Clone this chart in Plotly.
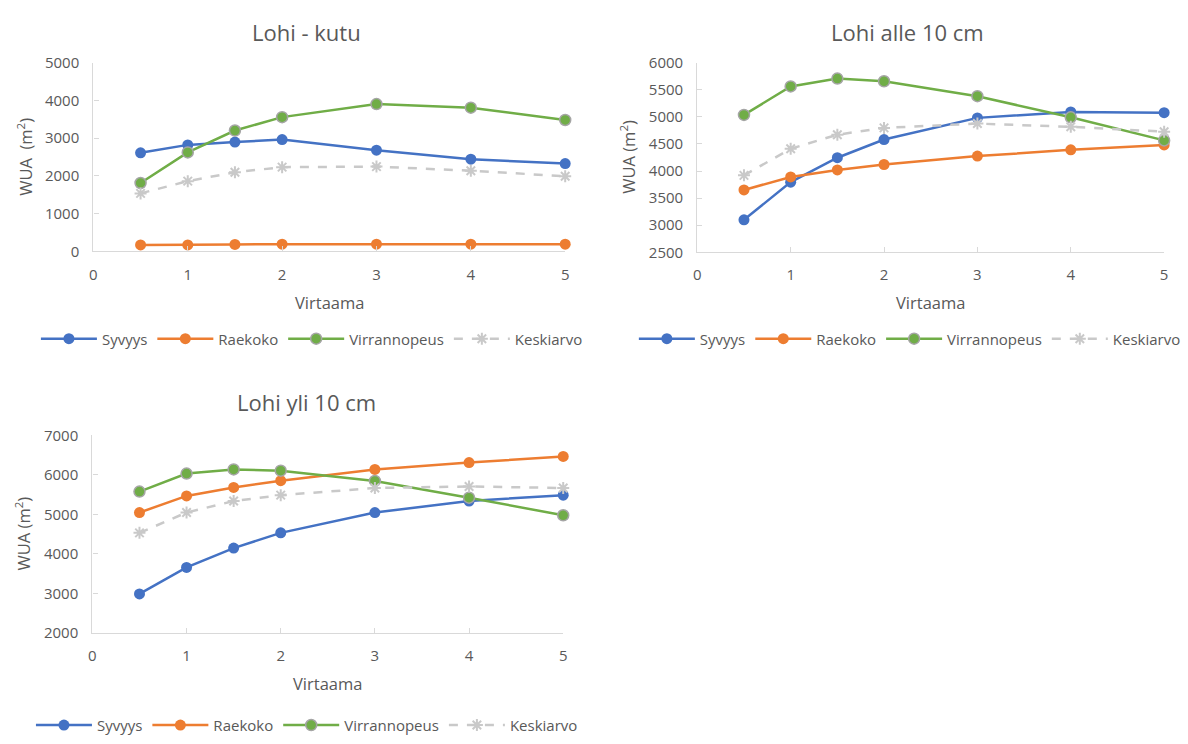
import plotly.graph_objects as go

virtaama = [0.5, 1, 1.5, 2, 3, 4, 5]
series_names = ["Syvyys", "Raekoko", "Virrannopeus", "Keskiarvo"]

kutu_syvyys = [2610, 2820, 2895, 2960, 2680, 2440, 2325]
kutu_raekoko = [170, 170, 185, 190, 190, 190, 190]
kutu_virrannopeus = [1810, 2620, 3200, 3555, 3900, 3805, 3480]
kutu_keskiarvo = [1535, 1860, 2095, 2230, 2245, 2135, 1990]

alle_syvyys = [3100, 3795, 4245, 4580, 4980, 5090, 5075]
alle_raekoko = [3650, 3890, 4020, 4120, 4275, 4390, 4480]
alle_virrannopeus = [5035, 5560, 5705, 5655, 5380, 4990, 4565]
alle_keskiarvo = [3920, 4410, 4670, 4795, 4875, 4815, 4725]

yli_syvyys = [2985, 3655, 4145, 4530, 5045, 5335, 5485]
yli_raekoko = [5045, 5465, 5680, 5850, 6135, 6310, 6465]
yli_virrannopeus = [5575, 6030, 6135, 6105, 5845, 5420, 4975]
yli_keskiarvo = [4530, 5045, 5335, 5485, 5665, 5705, 5665]

titles = ["Lohi - kutu", "Lohi alle 10 cm", "Lohi yli 10 cm"]
y_titles = ["WUA\u00a0\u00a0(m<sup>2</sup>)", "WUA (m<sup>2</sup>)", "WUA (m<sup>2</sup>)"]
y_ranges = [[0, 5000], [2500, 6000], [2000, 7000]]
y_dticks = [1000, 500, 1000]

data = [
    [kutu_syvyys, kutu_raekoko, kutu_virrannopeus, kutu_keskiarvo],
    [alle_syvyys, alle_raekoko, alle_virrannopeus, alle_keskiarvo],
    [yli_syvyys, yli_raekoko, yli_virrannopeus, yli_keskiarvo],
]

W, H = 1188, 744
# plot areas in pixels: (x0, x1, ytop, ybottom)
areas = [(90, 565, 53, 247), (698, 1168, 53, 248), (89, 563, 436, 639)]
title_pos = [(305, 22), (910, 22), (305, 402)]
xtitle_pos = [(328, 300), (933, 300), (326, 691)]
ytitle_pos = [(21, 150), (628, 150), (19, 537)]
legend_pos = [(310, 337), (912, 337), (305, 734)]

FONT = "Open Sans"
TXT = "#595959"
colors = ["#4472C4", "#ED7D31", "#70AD47", "#C9C9C9"]

fig = go.Figure()
annotations = []
layout = {}
for i in range(3):
    x0, x1, yt, yb = areas[i]
    ax = "" if i == 0 else str(i + 1)
    legend_name = "legend" if i == 0 else f"legend{i + 1}"
    for j, name in enumerate(series_names):
        if j < 3:
            marker = dict(size=11, color=colors[j],
                          line=dict(color="#A5A5A5" if j == 2 else colors[j], width=1.5 if j == 2 else 0))
            line = dict(color=colors[j], width=2.5)
        else:
            marker = dict(size=10, color=colors[j], symbol="asterisk-open",
                          line=dict(color=colors[j], width=2))
            line = dict(color=colors[j], width=2.5, dash="dash")
        fig.add_trace(go.Scatter(
            x=virtaama, y=data[i][j], name=name, mode="lines+markers",
            marker=marker, line=line, xaxis="x" + ax, yaxis="y" + ax,
            legend=legend_name, cliponaxis=False,
        ))
    common = dict(showgrid=False, zeroline=False, showline=True, linecolor="#D9D9D9",
                  linewidth=1.3, ticks="inside", ticklen=5, tickcolor="#D9D9D9",
                  tickfont=dict(family=FONT, size=15, color=TXT))
    layout["xaxis" + ax] = dict(common, domain=[x0 / W, x1 / W], range=[0, 5],
                                anchor="y" + ax, tickvals=[0, 1, 2, 3, 4, 5],
                                ticklabelstandoff=9)
    layout["yaxis" + ax] = dict(common, domain=[1 - yb / H, 1 - yt / H], range=y_ranges[i],
                                dtick=y_dticks[i], anchor="x" + ax, ticklabelstandoff=10)
    layout[legend_name] = dict(orientation="h", x=legend_pos[i][0] / W, y=1 - legend_pos[i][1] / H,
                               xanchor="center", yanchor="middle", itemwidth=56,
                               font=dict(family=FONT, size=15, color=TXT),
                               bgcolor="rgba(0,0,0,0)", tracegroupgap=0)
    tx, ty = title_pos[i]
    annotations.append(dict(text=titles[i], x=tx / W, y=1 - ty / H, xref="paper", yref="paper",
                            xanchor="center", yanchor="middle",
                            showarrow=False, font=dict(family=FONT, size=22, color=TXT)))
    vx, vy = xtitle_pos[i]
    annotations.append(dict(text="Virtaama", x=vx / W, y=1 - vy / H, xref="paper", yref="paper",
                            xanchor="center", yanchor="middle",
                            showarrow=False, font=dict(family=FONT, size=16.5, color=TXT)))
    wx, wy = ytitle_pos[i]
    annotations.append(dict(text=y_titles[i], x=wx / W, y=1 - wy / H, xref="paper",
                            yref="paper", showarrow=False, textangle=-90,
                            xanchor="center", yanchor="middle",
                            font=dict(family=FONT, size=16.5, color=TXT)))

fig.update_layout(width=W, height=H, margin=dict(l=0, r=0, t=0, b=0),
                  paper_bgcolor="white", plot_bgcolor="white",
                  annotations=annotations, **layout)
fig.write_html("out.html")
